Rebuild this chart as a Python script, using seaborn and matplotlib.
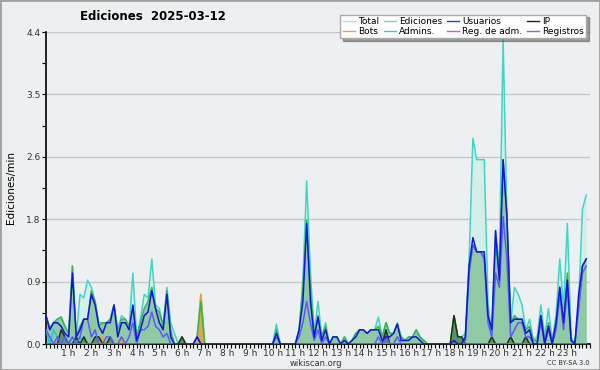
import numpy as np
import pandas as pd
import seaborn as sns
import matplotlib.pyplot as plt
from matplotlib.lines import Line2D

# ---------- datos (ediciones/min, cada 10 min) ---------- #
total = [0.40, 0.22, 0.30, 0.35, 0.38, 0.25, 0.15, 1.10, 0.10, 0.70, 0.65, 0.90,
         0.80, 0.60, 0.30, 0.30, 0.30, 0.35, 0.55, 0.20, 0.40, 0.35, 0.25, 1.00,
         0.10, 0.35, 0.70, 0.65, 1.20, 0.55, 0.50, 0.25, 0.80, 0.30, 0.15, 0.00,
         0.10, 0.00, 0.00, 0.00, 0.10, 0.70, 0.00, 0.00, 0.00, 0.00, 0.00, 0.00,
         0.00, 0.00, 0.00, 0.00, 0.00, 0.00, 0.00, 0.00, 0.00, 0.00, 0.00, 0.00,
         0.00, 0.28, 0.00, 0.00, 0.00, 0.00, 0.00, 0.20, 0.90, 2.30, 1.00, 0.15,
         0.60, 0.10, 0.30, 0.00, 0.10, 0.10, 0.00, 0.10, 0.00, 0.05, 0.15, 0.20,
         0.20, 0.15, 0.20, 0.20, 0.38, 0.10, 0.30, 0.15, 0.15, 0.30, 0.10, 0.05,
         0.10, 0.10, 0.20, 0.10, 0.05, 0.00, 0.00, 0.00, 0.00, 0.00, 0.00, 0.00,
         0.40, 0.10, 0.10, 0.15, 1.20, 2.90, 2.60, 2.60, 2.60, 0.60, 0.10, 1.60,
         1.10, 4.30, 1.80, 0.30, 0.80, 0.70, 0.55, 0.20, 0.35, 0.05, 0.10, 0.55,
         0.10, 0.50, 0.05, 0.40, 1.20, 0.50, 1.70, 0.10, 0.00, 0.60, 1.90, 2.10]

ediciones = [0.40, 0.22, 0.30, 0.35, 0.38, 0.25, 0.15, 1.10, 0.10, 0.25, 0.35, 0.35,
             0.75, 0.60, 0.25, 0.30, 0.30, 0.35, 0.55, 0.20, 0.35, 0.35, 0.25, 0.50,
             0.10, 0.30, 0.50, 0.60, 0.80, 0.50, 0.45, 0.25, 0.75, 0.20, 0.00, 0.00,
             0.10, 0.00, 0.00, 0.00, 0.10, 0.60, 0.00, 0.00, 0.00, 0.00, 0.00, 0.00,
             0.00, 0.00, 0.00, 0.00, 0.00, 0.00, 0.00, 0.00, 0.00, 0.00, 0.00, 0.00,
             0.00, 0.20, 0.00, 0.00, 0.00, 0.00, 0.00, 0.20, 0.80, 1.75, 0.80, 0.10,
             0.40, 0.10, 0.25, 0.00, 0.10, 0.10, 0.00, 0.10, 0.00, 0.05, 0.15, 0.20,
             0.20, 0.15, 0.20, 0.20, 0.25, 0.10, 0.30, 0.15, 0.15, 0.28, 0.10, 0.05,
             0.10, 0.10, 0.20, 0.10, 0.05, 0.00, 0.00, 0.00, 0.00, 0.00, 0.00, 0.00,
             0.40, 0.10, 0.10, 0.05, 1.10, 1.40, 1.30, 1.30, 1.25, 0.40, 0.20, 1.40,
             1.00, 2.60, 1.80, 0.30, 0.40, 0.35, 0.35, 0.20, 0.25, 0.05, 0.05, 0.40,
             0.05, 0.30, 0.05, 0.30, 0.80, 0.30, 1.00, 0.05, 0.00, 0.50, 1.10, 1.20]

usuarios = [0.40, 0.20, 0.30, 0.30, 0.25, 0.15, 0.10, 1.00, 0.10, 0.20, 0.35, 0.35,
            0.70, 0.55, 0.25, 0.15, 0.30, 0.30, 0.55, 0.10, 0.30, 0.30, 0.20, 0.55,
            0.05, 0.20, 0.40, 0.45, 0.75, 0.50, 0.30, 0.20, 0.70, 0.10, 0.00, 0.00,
            0.00, 0.00, 0.00, 0.00, 0.10, 0.00, 0.00, 0.00, 0.00, 0.00, 0.00, 0.00,
            0.00, 0.00, 0.00, 0.00, 0.00, 0.00, 0.00, 0.00, 0.00, 0.00, 0.00, 0.00,
            0.00, 0.15, 0.00, 0.00, 0.00, 0.00, 0.00, 0.20, 0.60, 1.70, 0.60, 0.10,
            0.38, 0.05, 0.20, 0.00, 0.10, 0.10, 0.00, 0.05, 0.00, 0.05, 0.10, 0.20,
            0.20, 0.15, 0.20, 0.20, 0.20, 0.05, 0.10, 0.10, 0.15, 0.28, 0.05, 0.05,
            0.05, 0.10, 0.10, 0.05, 0.00, 0.00, 0.00, 0.00, 0.00, 0.00, 0.00, 0.00,
            0.05, 0.00, 0.00, 0.10, 1.10, 1.50, 1.30, 1.30, 1.30, 0.40, 0.20, 1.60,
            0.90, 2.60, 1.80, 0.30, 0.35, 0.35, 0.35, 0.15, 0.20, 0.00, 0.00, 0.40,
            0.00, 0.25, 0.00, 0.30, 0.80, 0.30, 0.90, 0.05, 0.00, 0.70, 1.10, 1.20]

registros = [0.20, 0.10, 0.00, 0.10, 0.00, 0.10, 0.00, 0.10, 0.00, 0.10, 0.35, 0.35,
             0.10, 0.20, 0.00, 0.00, 0.10, 0.10, 0.00, 0.00, 0.10, 0.00, 0.10, 0.30,
             0.00, 0.20, 0.20, 0.25, 0.45, 0.25, 0.20, 0.10, 0.15, 0.00, 0.00, 0.00,
             0.00, 0.00, 0.00, 0.00, 0.10, 0.00, 0.00, 0.00, 0.00, 0.00, 0.00, 0.00,
             0.00, 0.00, 0.00, 0.00, 0.00, 0.00, 0.00, 0.00, 0.00, 0.00, 0.00, 0.00,
             0.00, 0.10, 0.00, 0.00, 0.00, 0.00, 0.00, 0.10, 0.30, 0.60, 0.30, 0.05,
             0.20, 0.00, 0.10, 0.00, 0.00, 0.00, 0.00, 0.00, 0.00, 0.00, 0.00, 0.00,
             0.00, 0.00, 0.00, 0.00, 0.10, 0.00, 0.10, 0.00, 0.00, 0.10, 0.00, 0.00,
             0.00, 0.00, 0.00, 0.00, 0.00, 0.00, 0.00, 0.00, 0.00, 0.00, 0.00, 0.00,
             0.00, 0.00, 0.00, 0.05, 1.00, 1.40, 1.30, 1.30, 1.20, 0.30, 0.10, 1.00,
             0.80, 1.80, 1.20, 0.10, 0.20, 0.30, 0.30, 0.10, 0.10, 0.00, 0.00, 0.30,
             0.00, 0.20, 0.00, 0.20, 0.70, 0.20, 0.80, 0.05, 0.00, 0.50, 1.00, 1.10]

ip = [0.00, 0.00, 0.00, 0.00, 0.20, 0.10, 0.00, 0.00, 0.10, 0.00, 0.10, 0.00,
      0.00, 0.10, 0.10, 0.00, 0.00, 0.10, 0.00, 0.00, 0.00, 0.00, 0.00, 0.00,
      0.00, 0.00, 0.00, 0.00, 0.00, 0.00, 0.00, 0.00, 0.00, 0.00, 0.00, 0.00,
      0.10, 0.00, 0.00, 0.00, 0.00, 0.00, 0.00, 0.00, 0.00, 0.00, 0.00, 0.00,
      0.00, 0.00, 0.00, 0.00, 0.00, 0.00, 0.00, 0.00, 0.00, 0.00, 0.00, 0.00,
      0.00, 0.00, 0.00, 0.00, 0.00, 0.00, 0.00, 0.00, 0.00, 0.00, 0.00, 0.00,
      0.00, 0.00, 0.00, 0.00, 0.00, 0.00, 0.00, 0.00, 0.00, 0.00, 0.00, 0.00,
      0.00, 0.00, 0.00, 0.00, 0.00, 0.00, 0.20, 0.00, 0.00, 0.00, 0.00, 0.00,
      0.00, 0.00, 0.00, 0.00, 0.00, 0.00, 0.00, 0.00, 0.00, 0.00, 0.00, 0.00,
      0.40, 0.10, 0.10, 0.00, 0.00, 0.00, 0.00, 0.00, 0.00, 0.00, 0.10, 0.00,
      0.00, 0.00, 0.00, 0.10, 0.00, 0.00, 0.00, 0.10, 0.00, 0.00, 0.00, 0.00,
      0.00, 0.00, 0.00, 0.00, 0.00, 0.00, 0.00, 0.00, 0.00, 0.00, 0.00, 0.00]

bots = [0.0] * 144
bots[15] = 0.10
bots[20] = 0.10
bots[41] = 0.70

admins = [0.20, 0.00, 0.20, 0.10, 0.00, 0.10, 0.00, 0.10, 0.00, 0.10, 0.00, 0.00] + [0.0] * 132

reg_adm = [0.0] * 144
reg_adm[133] = 0.25

hour_labels = [f'{h} h' for h in range(1, 24)]
y_ticks = [0.0, 0.88, 1.76, 2.64, 3.52, 4.4]
y_labels = ['0.0', '0.9', '1.8', '2.6', '3.5', '4.4']

# ---------- colores ---------- #
colors = {
    'Total': '#3fd6c6',
    'Ediciones': '#3cb44b',
    'Usuarios': '#1414e0',
    'IP': '#1e2e1e',
    'Bots': '#f0a030',
    'Admins.': '#22c4d4',
    'Reg. de adm.': '#d040d0',
    'Registros': '#5a5aff',
}
legend_colors = {
    'Total': '#a8e4e0', 'Ediciones': '#8ed48e', 'Usuarios': '#3434e4',
    'IP': '#202020', 'Bots': '#f0a040', 'Admins.': '#40c8d8',
    'Reg. de adm.': '#d050e0', 'Registros': '#7070f0',
}

slot = np.arange(144)
series = {'Total': total, 'Admins.': admins, 'Bots': bots, 'Ediciones': ediciones,
          'IP': ip, 'Reg. de adm.': reg_adm, 'Registros': registros, 'Usuarios': usuarios}
df = pd.concat([pd.DataFrame({'slot': slot, 'valor': v, 'serie': k}) for k, v in series.items()])

bg = '#eeeff0'
plt.rcParams['font.family'] = ['DejaVu Sans']
fig = plt.figure(figsize=(6, 3.7), dpi=100, facecolor=bg)
ax = fig.add_axes([46 / 600, 26 / 370, 544 / 600, 312 / 370])
ax.set_facecolor(bg)

# rellenos
ax.fill_between(slot, total, color='#d4eee8', zorder=1, lw=0)
ax.fill_between(slot, ediciones, color='#6cb880', alpha=0.65, zorder=2, lw=0)
ax.fill_between(slot, ip, color='#2a5a30', alpha=0.5, zorder=2, lw=0)
ax.fill_between(slot, bots, color='#f0a030', alpha=0.7, zorder=2, lw=0)

sns.lineplot(data=df, x='slot', y='valor', hue='serie', hue_order=list(series.keys()),
             palette=colors, linewidth=1.1, legend=False, ax=ax, zorder=3)

ax.set_xlim(0, 144)
ax.set_ylim(0, 4.4)
ax.set_yticks(y_ticks)
ax.set_yticklabels(y_labels)
ax.set_yticks([0.44, 1.32, 2.2, 3.08, 3.96], minor=True)
ax.set_xticks(np.arange(6, 144, 6))
ax.set_xticklabels(hour_labels)
ax.set_xticks(np.arange(0, 145, 1), minor=True)
ax.tick_params(axis='both', which='both', direction='out', color='black', length=3, width=0.8,
               labelsize=6.5, labelcolor='#333333', pad=1)
ax.tick_params(axis='x', which='major', length=3, pad=0.5)
ax.grid(axis='y', which='major', color='#c8c8c8', lw=1, zorder=0)
ax.set_axisbelow(True)
for s in ['top', 'right']:
    ax.spines[s].set_visible(False)
ax.spines['left'].set_linewidth(1.2)
ax.spines['bottom'].set_linewidth(1.2)
ax.set_xlabel('')
ax.set_ylabel('Ediciones/min', fontsize=7.5, labelpad=7)

fig.text(153 / 600, 1 - 16 / 370, 'Ediciones  2025-03-12', ha='center', va='center',
         fontsize=8.5, fontweight='bold')
fig.text(316 / 600, 1 - 363 / 370, 'wikiscan.org', ha='center', va='center', fontsize=6, color='#333333')
fig.text(590 / 600, 1 - 363 / 370, 'CC BY-SA 3.0', ha='right', va='center', fontsize=4.8, color='#333333')

order = ['Total', 'Bots', 'Ediciones', 'Admins.', 'Usuarios', 'Reg. de adm.', 'IP', 'Registros']
handles = [Line2D([], [], color=legend_colors[k], lw=1) for k in order]
leg = fig.legend(handles, order, ncol=4, loc='upper right', bbox_to_anchor=(591 / 600, 1 - 10 / 370),
                 fontsize=6.5, frameon=True, fancybox=False, shadow=True, framealpha=1,
                 handlelength=1.4, handletextpad=0.3, columnspacing=0.5, labelspacing=0.05,
                 borderpad=0.3, edgecolor='#aaaaaa')

# borde exterior
fig.patches.append(plt.Rectangle((0, 0), 1, 1, transform=fig.transFigure, fill=False,
                                 edgecolor='#a0a0a0', lw=2))
fig.savefig('out.png', dpi=100, facecolor=bg)
